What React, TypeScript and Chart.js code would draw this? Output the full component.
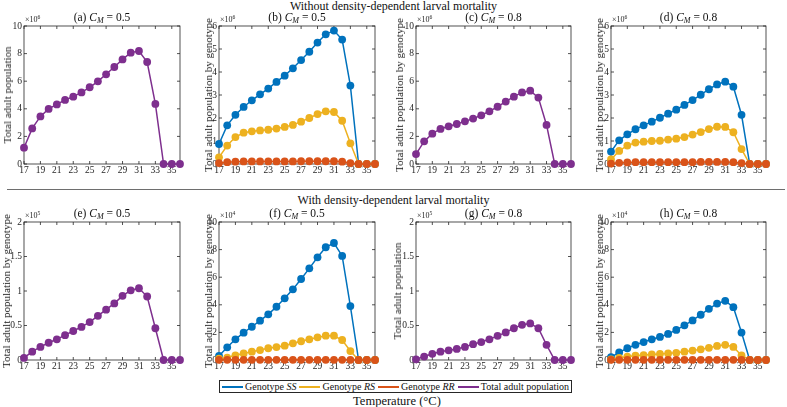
import React, { useEffect, useRef } from "react";
import { Chart, registerables } from "chart.js";
Chart.register(...registerables);

const FONT = "'Liberation Serif', 'Times New Roman', serif";
const INK = "#262626";

const temperatures = [17, 18, 19, 20, 21, 22, 23, 24, 25, 26, 27, 28, 29, 30, 31, 32, 33, 34, 35, 36];
const xTickValues = [17, 19, 21, 23, 25, 27, 29, 31, 33, 35];

// (a) C_M = 0.5, no density dependence, x10^6
const aTotal = [1.18, 2.58, 3.45, 3.99, 4.32, 4.64, 4.88, 5.19, 5.56, 5.99, 6.5, 7.03, 7.58, 8.07, 8.19, 7.39, 4.35, 0, 0, 0];
// (b) x10^6
const bSS = [0.87, 1.68, 2.14, 2.48, 2.77, 3.03, 3.28, 3.57, 3.84, 4.16, 4.52, 4.88, 5.28, 5.64, 5.8, 5.41, 3.41, 0, 0, 0];
const bRS = [0.29, 0.8, 1.17, 1.36, 1.42, 1.46, 1.49, 1.54, 1.61, 1.7, 1.84, 2.0, 2.17, 2.29, 2.26, 1.88, 0.9, 0, 0, 0];
const bRR = [0.04, 0.08, 0.1, 0.11, 0.11, 0.11, 0.11, 0.11, 0.11, 0.11, 0.12, 0.12, 0.12, 0.12, 0.12, 0.1, 0.04, 0, 0, 0];
// (c) C_M = 0.8, x10^6
const cTotal = [0.72, 1.64, 2.2, 2.54, 2.73, 2.9, 3.09, 3.29, 3.53, 3.82, 4.15, 4.52, 4.88, 5.19, 5.31, 4.81, 2.83, 0, 0, 0];
// (d) x10^6
const dSS = [0.54, 1.03, 1.29, 1.51, 1.68, 1.84, 2.01, 2.19, 2.36, 2.57, 2.78, 3.01, 3.25, 3.46, 3.58, 3.36, 2.14, 0, 0, 0];
const dRS = [0.2, 0.57, 0.8, 0.93, 0.97, 1.0, 1.01, 1.06, 1.1, 1.17, 1.28, 1.39, 1.52, 1.62, 1.61, 1.38, 0.65, 0, 0, 0];
const dRR = [0.02, 0.05, 0.07, 0.08, 0.08, 0.08, 0.08, 0.08, 0.08, 0.08, 0.08, 0.09, 0.09, 0.09, 0.09, 0.08, 0.04, 0, 0, 0];
// (e) with density dependence, x10^5
const eTotal = [0.03, 0.12, 0.19, 0.25, 0.3, 0.36, 0.42, 0.48, 0.55, 0.64, 0.73, 0.82, 0.93, 1.01, 1.04, 0.92, 0.46, 0, 0, 0];
// (f) x10^4
const fSS = [0.29, 0.92, 1.5, 1.98, 2.41, 2.85, 3.31, 3.86, 4.47, 5.12, 5.87, 6.64, 7.44, 8.17, 8.48, 7.54, 3.91, 0, 0, 0];
const fRS = [0.1, 0.17, 0.34, 0.48, 0.6, 0.72, 0.85, 0.94, 1.04, 1.21, 1.36, 1.5, 1.64, 1.76, 1.76, 1.45, 0.65, 0, 0, 0];
const fRR = [0.01, 0.01, 0.01, 0.01, 0.01, 0.01, 0.01, 0.01, 0.01, 0.01, 0.01, 0.01, 0.01, 0.01, 0.01, 0.01, 0.01, 0, 0, 0];
// (g) x10^5
const gTotal = [0.01, 0.05, 0.09, 0.12, 0.14, 0.16, 0.19, 0.23, 0.26, 0.3, 0.35, 0.4, 0.46, 0.51, 0.53, 0.46, 0.22, 0, 0, 0];
// (h) x10^4
const hSS = [0.2, 0.55, 0.85, 1.1, 1.3, 1.5, 1.67, 1.89, 2.18, 2.51, 2.87, 3.28, 3.71, 4.09, 4.29, 3.83, 1.99, 0, 0, 0];
const hRS = [0.05, 0.15, 0.25, 0.31, 0.36, 0.4, 0.44, 0.48, 0.52, 0.6, 0.68, 0.77, 0.88, 1.02, 1.1, 0.95, 0.33, 0, 0, 0];
const hRR = [0.01, 0.01, 0.01, 0.01, 0.01, 0.01, 0.01, 0.01, 0.01, 0.01, 0.01, 0.01, 0.01, 0.01, 0.01, 0.01, 0.01, 0, 0, 0];

const ticks0to10 = [0, 2, 4, 6, 8, 10];
const ticks0to6 = [0, 1, 2, 3, 4, 5, 6];
const ticks0to2 = [0, 0.5, 1, 1.5, 2];

const C_SS = "#0072BD";
const C_RS = "#EDB120";
const C_RR = "#D95319";
const C_TOT = "#7E2F8E";

type Series = { data: number[]; color: string; order: number };
type Panel = {
  key: string;
  cm: string;
  exp: number;
  yMax: number;
  yTicks: number[];
  yLabel: string;
  series: Series[];
  left: number;
  top: number;
  width: number;
  height: number;
  labelX: number;
};

const LBL_TOT = "Total adult population";
const LBL_GEN = "Total adult population by genotype";

const genotype = (ss: number[], rs: number[], rr: number[]): Series[] => [
  { data: ss, color: C_SS, order: 2 },
  { data: rs, color: C_RS, order: 1 },
  { data: rr, color: C_RR, order: 0 },
];

const panels: Panel[] = [
  { key: "a", cm: "0.5", exp: 6, yMax: 10, yTicks: ticks0to10, yLabel: LBL_TOT, series: [{ data: aTotal, color: C_TOT, order: 0 }], left: 24, top: 26, width: 156, height: 138, labelX: 7 },
  { key: "b", cm: "0.5", exp: 6, yMax: 6, yTicks: ticks0to6, yLabel: LBL_GEN, series: genotype(bSS, bRS, bRR), left: 219, top: 26, width: 156, height: 138, labelX: 208 },
  { key: "c", cm: "0.8", exp: 6, yMax: 10, yTicks: ticks0to10, yLabel: LBL_GEN, series: [{ data: cTotal, color: C_TOT, order: 0 }], left: 416, top: 26, width: 155, height: 138, labelX: 399 },
  { key: "d", cm: "0.8", exp: 6, yMax: 6, yTicks: ticks0to6, yLabel: LBL_GEN, series: genotype(dSS, dRS, dRR), left: 611, top: 26, width: 155, height: 138, labelX: 599 },
  { key: "e", cm: "0.5", exp: 5, yMax: 2, yTicks: ticks0to2, yLabel: LBL_GEN, series: [{ data: eTotal, color: C_TOT, order: 0 }], left: 24, top: 222, width: 156, height: 138, labelX: 6 },
  { key: "f", cm: "0.5", exp: 4, yMax: 10, yTicks: ticks0to10, yLabel: LBL_GEN, series: genotype(fSS, fRS, fRR), left: 219, top: 222, width: 156, height: 138, labelX: 208 },
  { key: "g", cm: "0.8", exp: 5, yMax: 2, yTicks: ticks0to2, yLabel: LBL_TOT, series: [{ data: gTotal, color: C_TOT, order: 0 }], left: 416, top: 222, width: 155, height: 138, labelX: 397 },
  { key: "h", cm: "0.8", exp: 4, yMax: 10, yTicks: ticks0to10, yLabel: LBL_GEN, series: genotype(hSS, hRS, hRR), left: 611, top: 222, width: 155, height: 138, labelX: 599 },
];

const PAD_T = 8;
const PAD_R = 8;
const Y_W = 24;
const X_H = 18;

const boxPlugin = {
  id: "matlabBox",
  beforeDatasetsDraw(chart: any) {
    const { ctx, chartArea, scales } = chart;
    const { left, right, top, bottom } = chartArea;
    ctx.save();
    ctx.strokeStyle = INK;
    ctx.lineWidth = 0.8;
    ctx.strokeRect(left, top, right - left, bottom - top);
    const tl = 3;
    ctx.beginPath();
    scales.x.ticks.forEach((t: any) => {
      const px = scales.x.getPixelForValue(t.value);
      ctx.moveTo(px, bottom);
      ctx.lineTo(px, bottom - tl);
      ctx.moveTo(px, top);
      ctx.lineTo(px, top + tl);
    });
    scales.y.ticks.forEach((t: any) => {
      const py = scales.y.getPixelForValue(t.value);
      ctx.moveTo(left, py);
      ctx.lineTo(left + tl, py);
      ctx.moveTo(right, py);
      ctx.lineTo(right - tl, py);
    });
    ctx.stroke();
    ctx.restore();
  },
};

function PanelChart({ p }: { p: Panel }) {
  const ref = useRef<HTMLCanvasElement>(null);
  const cw = p.width + Y_W + PAD_R;
  const ch = p.height + PAD_T + X_H;
  useEffect(() => {
    if (!ref.current) return;
    const chart = new Chart(ref.current, {
      type: "line",
      data: {
        datasets: p.series.map((s) => ({
          data: temperatures.map((t, i) => ({ x: t, y: s.data[i] })),
          borderColor: s.color,
          backgroundColor: s.color,
          pointBackgroundColor: s.color,
          pointBorderColor: s.color,
          pointRadius: 3.9,
          pointBorderWidth: 0,
          borderWidth: 1.5,
          tension: 0,
          order: s.order,
          clip: false as any,
        })),
      },
      options: {
        animation: false,
        responsive: false,
        maintainAspectRatio: false,
        layout: { padding: { top: PAD_T, right: PAD_R, left: 0, bottom: 0 } },
        plugins: { legend: { display: false }, tooltip: { enabled: false }, title: { display: false } },
        scales: {
          x: {
            type: "linear",
            min: 17,
            max: 36,
            grid: { display: false, drawTicks: false },
            border: { display: false },
            afterBuildTicks: (s: any) => {
              s.ticks = xTickValues.map((v) => ({ value: v }));
            },
            afterFit: (s: any) => {
              s.height = X_H;
            },
            ticks: {
              font: { family: FONT, size: 9.5 },
              color: INK,
              padding: 1,
              maxRotation: 0,
              autoSkip: false,
              callback: (v: any) => String(v),
            },
          },
          y: {
            type: "linear",
            min: 0,
            max: p.yMax,
            grid: { display: false, drawTicks: false },
            border: { display: false },
            afterBuildTicks: (s: any) => {
              s.ticks = p.yTicks.map((v) => ({ value: v }));
            },
            afterFit: (s: any) => {
              s.width = Y_W;
            },
            ticks: {
              font: { family: FONT, size: 9.5 },
              color: INK,
              padding: 2,
              autoSkip: false,
              callback: (v: any) => String(v),
            },
          },
        },
      },
      plugins: [boxPlugin],
    });
    return () => chart.destroy();
  }, []);
  return (
    <>
      <canvas
        ref={ref}
        width={cw}
        height={ch}
        style={{ position: "absolute", left: p.left - Y_W, top: p.top - PAD_T, width: cw, height: ch }}
      />
      <div
        style={{
          position: "absolute",
          left: p.left,
          width: p.width,
          top: p.top - 15,
          textAlign: "center",
          fontSize: 11.5,
          lineHeight: "13px",
          whiteSpace: "nowrap",
        }}
      >
        ({p.key}) <i>C<sub style={{ fontSize: "0.7em", verticalAlign: "-0.3em", lineHeight: 0 }}>M</sub></i> = {p.cm}
      </div>
      <div
        style={{
          position: "absolute",
          left: p.left + 1,
          top: p.top - 11,
          fontSize: 8,
          lineHeight: "10px",
          color: INK,
          whiteSpace: "nowrap",
        }}
      >
        ×10<sup style={{ fontSize: "0.7em", verticalAlign: "0.5em", lineHeight: 0 }}>{p.exp}</sup>
      </div>
      <div
        style={{
          position: "absolute",
          left: p.labelX,
          top: p.top + p.height / 2,
          transform: "translate(-50%, -50%) rotate(-90deg)",
          fontSize: 11,
          lineHeight: "12px",
          whiteSpace: "nowrap",
          color: INK,
        }}
      >
        {p.yLabel}
      </div>
    </>
  );
}

const legendItems = [
  { color: C_SS, pre: "Genotype ", it: "SS" },
  { color: C_RS, pre: "Genotype ", it: "RS" },
  { color: C_RR, pre: "Genotype ", it: "RR" },
  { color: C_TOT, pre: "Total adult population", it: "" },
];

export default function App() {
  return (
    <div
      style={{
        position: "absolute",
        left: 0,
        top: 0,
        width: 787,
        height: 407,
        background: "#ffffff",
        fontFamily: FONT,
        color: "#111",
        overflow: "hidden",
      }}
    >
      <div style={{ position: "absolute", left: 0, width: 787, top: 0, textAlign: "center", fontSize: 12, lineHeight: "13px" }}>
        Without density-dependent larval mortality
      </div>
      <div style={{ position: "absolute", left: 7, width: 778, top: 189, height: 1, background: "#6e6e6e" }} />
      <div style={{ position: "absolute", left: 0, width: 787, top: 194, textAlign: "center", fontSize: 12, lineHeight: "13px" }}>
        With density-dependent larval mortality
      </div>
      {panels.map((p) => (
        <PanelChart key={p.key} p={p} />
      ))}
      <div
        style={{
          position: "absolute",
          left: 219,
          top: 380,
          width: 353,
          height: 13,
          boxSizing: "border-box",
          border: `1px solid ${INK}`,
          display: "flex",
          alignItems: "center",
          justifyContent: "space-between",
          padding: "0 2px",
          fontSize: 10,
          lineHeight: "11px",
          whiteSpace: "nowrap",
        }}
      >
        {legendItems.map((it, i) => (
          <span key={i} style={{ display: "flex", alignItems: "center" }}>
            <span style={{ display: "inline-block", width: 21, height: 2, background: it.color, marginRight: 2 }} />
            <span>
              {it.pre}
              {it.it ? <i>{it.it}</i> : null}
            </span>
          </span>
        ))}
      </div>
      <div style={{ position: "absolute", left: 297, width: 200, top: 394, textAlign: "center", fontSize: 12.5, lineHeight: "14px" }}>
        Temperature (°C)
      </div>
    </div>
  );
}
